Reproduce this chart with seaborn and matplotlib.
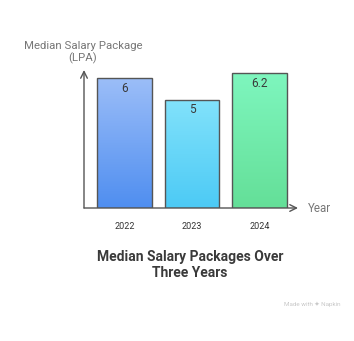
import numpy as np
import pandas as pd
import matplotlib
matplotlib.use("Agg")
import matplotlib.pyplot as plt
import seaborn as sns
from matplotlib.colors import LinearSegmentedColormap

years = ["2022", "2023", "2024"]
salaries = [6, 5, 6.2]
value_labels = ["6", "5", "6.2"]
top_colors = ["#9cbef8", "#82e2fb", "#7ef6be"]
bottom_colors = ["#4f8ef0", "#4ccaf5", "#64df98"]

sns.set_theme(style="white")
plt.rcParams["font.family"] = ["Roboto", "DejaVu Sans"]

fig = plt.figure(figsize=(3.54, 3.41), dpi=100)
ax = fig.add_axes([84 / 354, 1 - 208 / 341, (298 - 84) / 354, 138 / 341])

df = pd.DataFrame({"year": years, "salary": salaries})
sns.barplot(data=df, x="year", y="salary", ax=ax, width=0.81,
            color="white", edgecolor="#555555", linewidth=1.0, zorder=3)

ax.set_xlim(-0.6, 2.567)
ax.set_ylim(0, 6.36)

# vertical gradient fill inside each bar
for patch, c_top, c_bot, label in zip(ax.patches, top_colors, bottom_colors, value_labels):
    x0, y0 = patch.get_x(), patch.get_y()
    w, h = patch.get_width(), patch.get_height()
    cmap = LinearSegmentedColormap.from_list("g", [c_bot, c_top])
    grad = np.linspace(0, 1, 256).reshape(-1, 1)
    im = ax.imshow(grad, cmap=cmap, aspect="auto", origin="lower",
                   extent=[x0, x0 + w, y0, y0 + h], zorder=2)
    im.set_clip_path(patch)
    patch.set_facecolor("none")
    ax.text(x0 + w / 2, y0 + h - 0.47, label, ha="center", va="center",
            fontsize=8.5, color="#3a3a3a")

for s in ax.spines.values():
    s.set_visible(False)

ax.set_xlabel("")
ax.set_ylabel("")
ax.set_yticks([])
ax.tick_params(axis="x", length=0, pad=10, labelsize=6.5, labelcolor="#333333")

# axis arrows
ax.annotate("", xy=(1.0, 0), xytext=(0, 0), xycoords="axes fraction",
            arrowprops=dict(arrowstyle="->", color="#555555", lw=1.0,
                            shrinkA=0, shrinkB=0), zorder=4)
ax.annotate("", xy=(0, 1.0), xytext=(0, 0), xycoords="axes fraction",
            arrowprops=dict(arrowstyle="->", color="#555555", lw=1.0,
                            shrinkA=0, shrinkB=0), zorder=4)

fig.text(308 / 354, 1 - 208 / 341, "Year", ha="left", va="center",
         fontsize=8.3, color="#777777")
fig.text(83 / 354, 1 - 52.5 / 341, "Median Salary Package\n(LPA)", ha="center",
         va="center", fontsize=8.2, color="#777777", linespacing=1.25)

fig.text(190 / 354, 1 - 265 / 341, "Median Salary Packages Over\nThree Years",
         ha="center", va="center", fontsize=10, fontweight="bold",
         color="#3a3a3a", linespacing=1.15)

fig.text(340 / 354, 1 - 304 / 341, "Made with \u2726 Napkin", ha="right",
         va="center", fontsize=4.5, color="#c8c8c8")

fig.savefig("out.png", dpi=100)
